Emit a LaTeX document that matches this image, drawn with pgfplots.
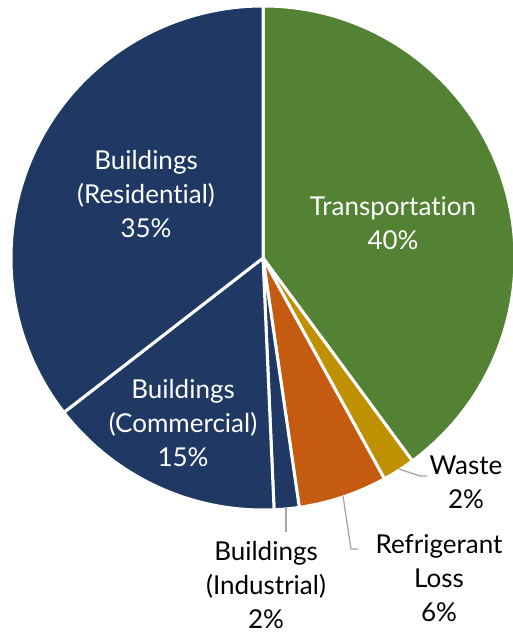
\documentclass[border=0pt]{standalone}
\usepackage{pgfplots}
\usepackage{pgfplotstable}
\usepackage{fontspec}
\setmainfont{Lato}[Ligatures=NoCommon]
\pgfplotsset{compat=1.18}
\definecolor{ctrans}{HTML}{548235}
\definecolor{cwaste}{HTML}{BF9000}
\definecolor{crefr}{HTML}{C55A11}
\definecolor{cbuild}{HTML}{203864}
\definecolor{cleader}{HTML}{A6A6A6}

% share of emissions, clockwise from 12 o'clock
\pgfplotstableread{
name        value  color
Transport   39.9   ctrans
Waste       2.1    cwaste
Refrigerant 5.7    crefr
Industrial  1.6    cbuild
Commercial  15.2   cbuild
Residential 35.5   cbuild
}\sectors

\begin{document}
\begin{tikzpicture}
\begin{axis}[scale only axis,width=513pt,height=635pt,
  xmin=0,xmax=513,ymin=0,ymax=635,hide axis,clip=false]
\coordinate (bl) at (axis cs:0,0);
\coordinate (tr) at (axis cs:513,635);
\pgfmathsetmacro\angA{90}
\pgfplotsforeachungrouped \i in {0,...,5}{%
  \pgfplotstablegetelem{\i}{value}\of\sectors \let\val\pgfplotsretval
  \pgfplotstablegetelem{\i}{color}\of\sectors \let\col\pgfplotsretval
  \pgfmathsetmacro\angB{\angA-3.6*\val}%
  \edef\wedge{\noexpand\filldraw[fill=\col,draw=white,line width=3pt,line join=round]
    (axis cs:263,377) -- ++(\angA:252pt) arc[start angle=\angA,end angle=\angB,radius=252pt] -- cycle;}%
  \wedge
  \global\let\angA\angB
}
\begin{scope}[every node/.style={font=\fontsize{26}{34}\selectfont,align=center,inner sep=0pt}]
\node[white] at (axis cs:146,441) {Buildings\\(Residential)\\35\%};
\node[white] at (axis cs:393,412) {Transportation\\40\%};
\node[white] at (axis cs:183,212) {Buildings\\(Commercial)\\15\%};
\node at (axis cs:466,153) {Waste\\2\%};
\node at (axis cs:439,57) {Refrigerant\\Loss\\6\%};
\node at (axis cs:266,50) {Buildings\\(Industrial)\\2\%};
\end{scope}
\draw[cleader,line width=1.3pt] (axis cs:399,166) -- (axis cs:420,159) -- (axis cs:427,159);
\draw[cleader,line width=1.3pt] (axis cs:343,139) -- (axis cs:351,86) -- (axis cs:358,86);
\draw[cleader,line width=1.3pt] (axis cs:286,127) -- (axis cs:286,103);
\end{axis}
\pgfresetboundingbox
\path[use as bounding box] (bl) rectangle (tr);
\end{tikzpicture}
\end{document}
